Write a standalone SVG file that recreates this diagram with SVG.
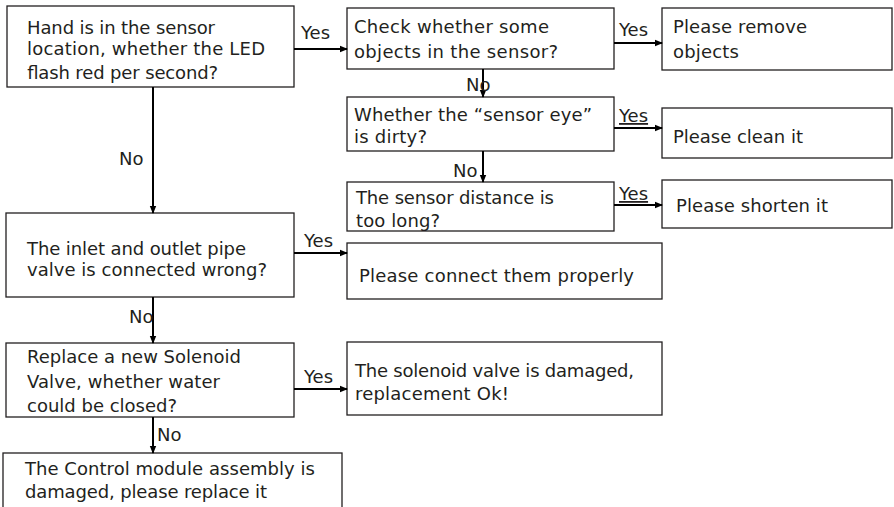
<svg xmlns="http://www.w3.org/2000/svg" width="894" height="507" viewBox="0 0 894 507">
<defs>
<marker id="ah" markerWidth="8" markerHeight="8" refX="7" refY="4" orient="auto" markerUnits="userSpaceOnUse">
<path d="M0,0.8 L8,4 L0,7.2 Z" fill="#000"/>
</marker>
<style>
.box{fill:#fff;stroke:#231f20;stroke-width:1.3}
.t{font-family:"DejaVu Sans","Liberation Sans",sans-serif;font-size:18px;fill:#231f20}
.c{stroke:#000;stroke-width:2;fill:none;marker-end:url(#ah)}
.u{text-decoration:underline}
</style>
</defs>
<rect width="894" height="507" fill="#fff"/>
<g id="n1">
<rect class="box" x="7" y="6" width="287" height="81"/>
<text class="t" x="27" y="34" textLength="188">Hand is in the sensor</text>
<text class="t" x="27" y="55" textLength="238">location, whether the LED</text>
<text class="t" x="27" y="79" textLength="191">flash red per second?</text>
</g>
<g id="n2">
<rect class="box" x="347" y="8" width="267" height="61"/>
<text class="t" x="354" y="33" textLength="195">Check whether some</text>
<text class="t" x="354" y="58" textLength="204">objects in the sensor?</text>
</g>
<g id="n3">
<rect class="box" x="662" y="8" width="230" height="62"/>
<text class="t" x="673" y="33" textLength="134">Please remove</text>
<text class="t" x="673" y="58" textLength="66">objects</text>
</g>
<g id="n4">
<rect class="box" x="347" y="97" width="267" height="54"/>
<text class="t" x="354" y="121" textLength="238">Whether the “sensor eye”</text>
<text class="t" x="354" y="143" textLength="73">is dirty?</text>
</g>
<g id="n5">
<rect class="box" x="662" y="108" width="230" height="50"/>
<text class="t" x="673" y="143" textLength="130">Please clean it</text>
</g>
<g id="n6">
<rect class="box" x="347" y="182" width="267" height="49"/>
<text class="t" x="356" y="204" textLength="198">The sensor distance is</text>
<text class="t" x="356" y="227" textLength="84">too long?</text>
</g>
<g id="n7">
<rect class="box" x="662" y="180" width="230" height="48"/>
<text class="t" x="676" y="212" textLength="152">Please shorten it</text>
</g>
<g id="n8">
<rect class="box" x="6" y="213" width="288" height="84"/>
<text class="t" x="27" y="255" textLength="219">The inlet and outlet pipe</text>
<text class="t" x="27" y="276" textLength="240">valve is connected wrong?</text>
</g>
<g id="n9">
<rect class="box" x="347" y="243" width="315" height="56"/>
<text class="t" x="359" y="282" textLength="275">Please connect them properly</text>
</g>
<g id="n10">
<rect class="box" x="6" y="343" width="288" height="74"/>
<text class="t" x="27" y="363" textLength="214">Replace a new Solenoid</text>
<text class="t" x="27" y="388" textLength="193">Valve, whether water</text>
<text class="t" x="27" y="412" textLength="150">could be closed?</text>
</g>
<g id="n11">
<rect class="box" x="347" y="342" width="315" height="73"/>
<text class="t" x="355" y="377" textLength="279">The solenoid valve is damaged,</text>
<text class="t" x="355" y="400" textLength="154">replacement Ok!</text>
</g>
<g id="n12">
<rect class="box" x="3" y="453" width="339" height="70"/>
<text class="t" x="25" y="475" textLength="290">The Control module assembly is</text>
<text class="t" x="25" y="498" textLength="242">damaged, please replace it</text>
</g>
<g id="connectors">
<line class="c" x1="294" y1="49" x2="347" y2="49"/>
<line class="c" x1="614" y1="43" x2="662" y2="43"/>
<line class="c" x1="483" y1="69" x2="483" y2="97"/>
<line class="c" x1="614" y1="128" x2="662" y2="128"/>
<line class="c" x1="483" y1="151" x2="483" y2="182"/>
<line class="c" x1="614" y1="205" x2="662" y2="205"/>
<line class="c" x1="153" y1="87" x2="153" y2="213"/>
<line class="c" x1="294" y1="253" x2="347" y2="253"/>
<line class="c" x1="153" y1="297" x2="153" y2="343"/>
<line class="c" x1="294" y1="389" x2="347" y2="389"/>
<line class="c" x1="153" y1="417" x2="153" y2="453"/>
<text class="t" x="301" y="39">Yes</text>
<text class="t" x="619" y="36">Yes</text>
<text class="t" x="466" y="91">No</text>
<text class="t u" x="619" y="122">Yes</text>
<text class="t" x="453" y="177">No</text>
<text class="t u" x="619" y="200">Yes</text>
<text class="t" x="119" y="165">No</text>
<text class="t" x="304" y="247">Yes</text>
<text class="t" x="129" y="323">No</text>
<text class="t" x="304" y="383">Yes</text>
<text class="t" x="157" y="441">No</text>
</g>
</svg>
